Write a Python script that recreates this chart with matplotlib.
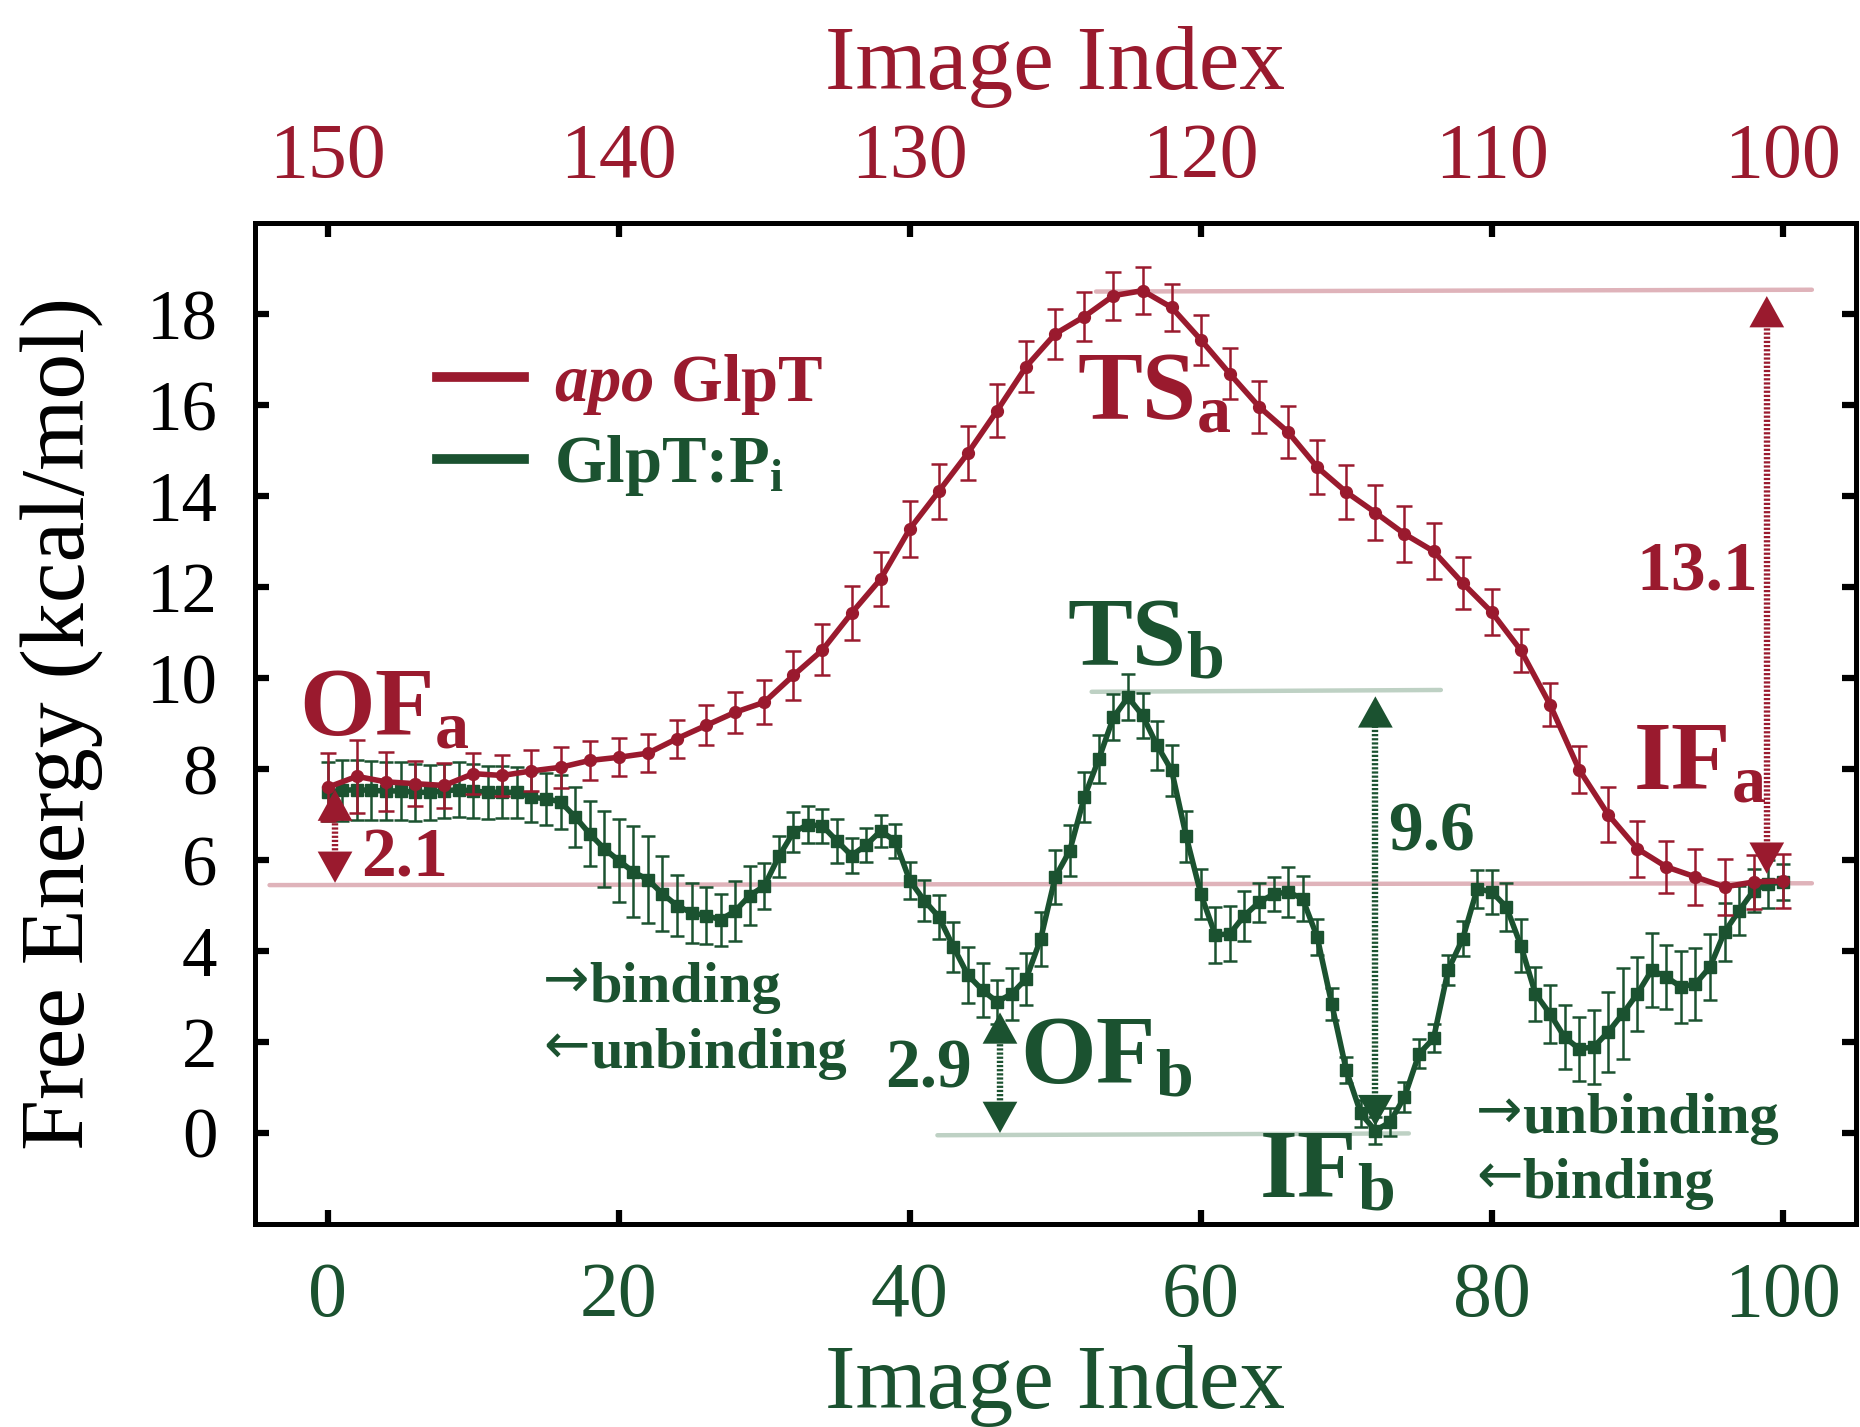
import numpy as np
import matplotlib
matplotlib.use('Agg')
import matplotlib.pyplot as plt
from matplotlib.lines import Line2D

plt.rcParams['font.family'] = ['Liberation Serif', 'DejaVu Serif']
plt.rcParams['mathtext.fontset'] = 'custom'
plt.rcParams['mathtext.rm'] = 'Liberation Serif:bold'
plt.rcParams['mathtext.it'] = 'Liberation Serif:italic:bold'
plt.rcParams['mathtext.bf'] = 'Liberation Serif:bold'

RED = '#9a1a2e'
GREEN = '#1b5230'
PINK_LINE = '#d59aa3'
GREEN_LINE = '#a9c2b0'

# ---------------------------------------------------------
# Data
# ---------------------------------------------------------
# apo GlpT: images 150 -> 100 (every second index on the bottom axis)
x_apo = np.arange(0, 101, 2)
y_apo = [7.60, 7.84, 7.72, 7.68, 7.64, 7.90, 7.86, 7.96, 8.04, 8.19,
         8.26, 8.35, 8.67, 8.96, 9.25, 9.47, 10.06, 10.62, 11.43, 12.18,
         13.28, 14.11, 14.95, 15.88, 16.85, 17.57, 17.95, 18.41, 18.52, 18.15,
         17.44, 16.69, 15.97, 15.41, 14.64, 14.09, 13.64, 13.17, 12.79, 12.09,
         11.45, 10.61, 9.42, 7.99, 7.00, 6.25, 5.85, 5.63, 5.41, 5.52,
         5.54]
e_apo = [0.75, 0.80, 0.65, 0.50, 0.50, 0.45, 0.45, 0.45, 0.45, 0.42,
         0.42, 0.42, 0.42, 0.44, 0.45, 0.48, 0.53, 0.56, 0.59, 0.60,
         0.62, 0.60, 0.59, 0.58, 0.56, 0.55, 0.54, 0.53, 0.52, 0.52,
         0.55, 0.56, 0.57, 0.58, 0.60, 0.60, 0.60, 0.62, 0.62, 0.58,
         0.50, 0.48, 0.48, 0.52, 0.60, 0.62, 0.57, 0.62, 0.62, 0.60,
         0.59]

# GlpT:Pi: images 0 -> 100
x_pi = np.arange(0, 101)
y_pi = [7.50, 7.53, 7.55, 7.53, 7.52, 7.52, 7.49, 7.49, 7.52, 7.55,
        7.52, 7.49, 7.49, 7.49, 7.38, 7.35, 7.28, 6.95, 6.58, 6.25,
        5.99, 5.74, 5.57, 5.26, 5.00, 4.84, 4.78, 4.69, 4.88, 5.22,
        5.43, 6.08, 6.61, 6.78, 6.75, 6.42, 6.10, 6.33, 6.64, 6.42,
        5.55, 5.11, 4.75, 4.09, 3.47, 3.14, 2.88, 3.06, 3.39, 4.27,
        5.63, 6.21, 7.39, 8.23, 9.14, 9.58, 9.18, 8.52, 7.97, 6.52,
        5.26, 4.35, 4.38, 4.78, 5.07, 5.25, 5.30, 5.15, 4.31, 2.84,
        1.38, 0.43, 0.05, 0.24, 0.79, 1.74, 2.08, 3.58, 4.27, 5.37,
        5.30, 4.97, 4.12, 3.06, 2.62, 2.11, 1.85, 1.89, 2.22, 2.62,
        3.06, 3.58, 3.43, 3.21, 3.28, 3.65, 4.42, 4.89, 5.33, 5.48,
        5.52]
e_pi = [0.65, 0.67, 0.66, 0.65, 0.64, 0.64, 0.62, 0.61, 0.60, 0.60,
        0.59, 0.58, 0.57, 0.56, 0.55, 0.57, 0.59, 0.66, 0.71, 0.84,
        0.92, 1.00, 0.95, 0.82, 0.68, 0.66, 0.62, 0.57, 0.66, 0.64,
        0.51, 0.46, 0.44, 0.40, 0.38, 0.48, 0.38, 0.37, 0.35, 0.37,
        0.40, 0.45, 0.49, 0.55, 0.62, 0.60, 0.48, 0.57, 0.57, 0.59,
        0.59, 0.57, 0.55, 0.53, 0.51, 0.51, 0.49, 0.53, 0.57, 0.57,
        0.55, 0.62, 0.60, 0.55, 0.43, 0.38, 0.55, 0.49, 0.40, 0.35,
        0.29, 0.30, 0.30, 0.31, 0.33, 0.32, 0.31, 0.33, 0.38, 0.42,
        0.49, 0.53, 0.59, 0.60, 0.64, 0.70, 0.71, 0.81, 0.88, 1.00,
        0.82, 0.82, 0.70, 0.79, 0.79, 0.73, 0.64, 0.53, 0.48, 0.53,
        0.40]

# top axis: image index of the apo path
top_ticks = [150, 140, 130, 120, 110, 100]
bottom_ticks = [0, 20, 40, 60, 80, 100]
y_ticks = [0, 2, 4, 6, 8, 10, 12, 14, 16, 18]

# reference levels (y, x-start, x-end)
ref_apo = [(5.45, -4.0, 102.0), (18.5, 52.8, 102.0)]
ref_pi = [(9.7, 52.5, 76.5), (-0.05, 41.9, 74.3)]

# ---------------------------------------------------------
# Figure
# ---------------------------------------------------------
fig = plt.figure(figsize=(18.6, 14.27), dpi=100)
ax = fig.add_axes([0.1371, 0.1423, 0.8605, 0.7012])

for yv, x0, x1 in ref_apo:
    ax.plot([x0, x1], [yv, yv + 0.04], color=PINK_LINE, lw=3.2, alpha=0.75,
            solid_capstyle='round', zorder=1)
for yv, x0, x1 in ref_pi:
    ax.plot([x0, x1], [yv, yv + 0.04], color=GREEN_LINE, lw=3.2, alpha=0.75,
            solid_capstyle='round', zorder=1)

ax.errorbar(x_pi, y_pi, yerr=e_pi, fmt='-s', color=GREEN, lw=4.0, ms=8,
            elinewidth=1.8, capsize=5, capthick=1.8, zorder=3)
ax.errorbar(x_apo, y_apo, yerr=e_apo, fmt='-o', color=RED, lw=4.0, ms=8.5,
            elinewidth=1.8, capsize=5.5, capthick=1.8, zorder=4)


def dotted_arrow(x, y_lo, y_hi, color):
    """double-headed dotted vertical arrow"""
    ax.plot([x, x], [y_lo + 0.35, y_hi - 0.35], color=color, lw=4.6,
            ls=(0, (0.35, 0.3)), zorder=5)
    hp = dict(arrowstyle='-|>,head_length=0.9,head_width=0.5', color=color,
              lw=0, shrinkA=0, shrinkB=0, mutation_scale=25)
    ax.annotate('', xy=(x, y_hi), xytext=(x, y_hi - 0.7), arrowprops=hp,
                zorder=6)
    ax.annotate('', xy=(x, y_lo), xytext=(x, y_lo + 0.7), arrowprops=hp,
                zorder=6)


dotted_arrow(0.5, 5.5, 7.55, RED)
dotted_arrow(98.9, 5.7, 18.4, RED)
dotted_arrow(72.0, 0.15, 9.6, GREEN)
dotted_arrow(46.2, 0.0, 2.65, GREEN)

big = dict(fontsize=70, fontweight='bold', va='baseline', ha='left')
ax.text(-2.0, 8.75, r'OF$_\mathrm{a}$', color=RED, **big)
ax.text(51.5, 15.7, r'TS$_\mathrm{a}$', color=RED, **big)
ax.text(89.7, 7.57, r'IF$_\mathrm{a}$', color=RED, **big)
ax.text(50.8, 10.3, r'TS$_\mathrm{b}$', color=GREEN, **big)
ax.text(47.6, 1.1, r'OF$_\mathrm{b}$', color=GREEN, **big)
ax.text(64.0, -1.4, r'IF$_\mathrm{b}$', color=GREEN, **big)

num = dict(fontsize=50, fontweight='bold', va='baseline')
ax.text(2.3, 5.63, '2.1', color=RED, ha='left', **num)
ax.text(98.3, 11.93, '13.1', color=RED, ha='right', **num)
ax.text(72.9, 6.21, '9.6', color=GREEN, ha='left', **num)
ax.text(44.3, 1.0, '2.9', color=GREEN, ha='right', **num)

# direction notes: word starts at x, the arrow glyph sits just before it
notes = [(18.0, 2.87, '\u2192', 'binding'),
         (18.0, 1.43, '\u2190', 'unbinding'),
         (82.1, 0.0, '\u2192', 'unbinding'),
         (82.1, -1.43, '\u2190', 'binding')]
for xn, yn, arrow, word in notes:
    ax.text(xn, yn, word, fontsize=42, fontweight='bold', color=GREEN,
            ha='left', va='baseline')
    ax.text(xn, yn + 0.12, arrow, fontsize=40, color=GREEN, ha='right',
            va='baseline', family='DejaVu Sans')

handles = [Line2D([], [], color=RED, lw=7),
           Line2D([], [], color=GREEN, lw=7)]
leg = ax.legend(handles, [r'$\mathit{apo}$ GlpT', r'GlpT:P$_\mathrm{i}$'],
                loc='upper left', bbox_to_anchor=(0.093, 0.905), frameon=False,
                handlelength=1.3, handletextpad=0.45, labelspacing=0.25,
                borderpad=0, prop=dict(size=48, weight='bold'))
for txt, c in zip(leg.get_texts(), [RED, GREEN]):
    txt.set_color(c)

ax.set_xlim(-5, 105)
ax.set_ylim(-2, 20)
ax.set_xticks(bottom_ticks)
ax.set_yticks(y_ticks)
ax.tick_params(axis='x', direction='in', length=10, width=4.5, pad=27,
               labelsize=56, labelcolor=GREEN, top=False)
ax.tick_params(axis='y', direction='in', length=10, width=4.5, pad=27,
               labelsize=51, right=True)
for sp in ax.spines.values():
    sp.set_linewidth(3.6)

ax.set_xlabel('Image Index', fontsize=66, color=GREEN)
ax.set_ylabel('Free Energy (kcal/mol)', fontsize=66)
ax.xaxis.set_label_coords(0.5, -0.12)
ax.yaxis.set_label_coords(-0.095, 0.5)

# top axis in image index of the apo path
top = ax.twiny()
top.set_xlim(150 - (-5) / 2, 150 - 105 / 2)
top.set_xticks(top_ticks)
top.tick_params(axis='x', direction='in', length=10, width=4.5, pad=21,
                labelsize=56, labelcolor=RED)
top.set_xlabel('Image Index', fontsize=66, color=RED)
top.xaxis.set_label_coords(0.5, 1.134)
for sp in top.spines.values():
    sp.set_linewidth(3.6)

fig.savefig('out.png', dpi=100)
